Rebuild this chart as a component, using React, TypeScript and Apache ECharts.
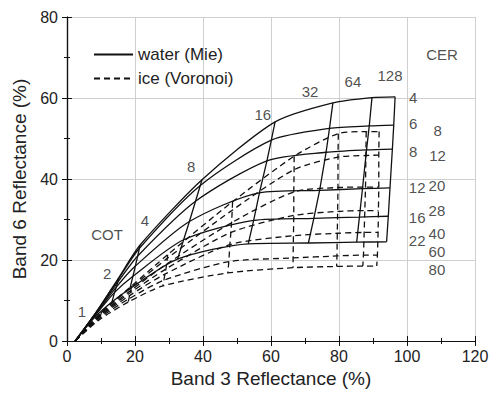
import React, { useEffect, useRef } from "react";
import * as echarts from "echarts";

// Optical thickness (COT) grid nodes and effective radii (CER)
const cotValues = [0, 1, 2, 4, 8, 16, 32, 64, 128];
const waterCER = [4, 6, 8, 12, 16, 22];
const iceCER = [8, 12, 20, 28, 40, 60, 80];

// Water (Mie) LUT: rows = CER, columns = COT
const waterBand3 = [
  [2.4, 8.8, 15.2, 21.5, 39.7, 61.2, 78.2, 89.7, 96.5],
  [2.4, 8.75, 15.1, 21.3, 39.2, 60.1, 77.2, 88.9, 96.1],
  [2.4, 8.7, 14.9, 20.8, 37.8, 58.8, 76.2, 88.1, 95.7],
  [2.4, 8.5, 14.5, 20.1, 36.0, 56.6, 74.3, 86.9, 95.0],
  [2.4, 8.3, 14.0, 19.4, 34.3, 54.9, 72.6, 86.0, 94.5],
  [2.4, 8.0, 13.2, 18.5, 32.5, 53.3, 71.0, 85.2, 94.0],
];
const waterBand6 = [
  [0, 7.4, 15.6, 23.7, 39.8, 54.1, 58.8, 60.1, 60.3],
  [0, 7.3, 15.3, 22.9, 38.4, 49.6, 52.5, 53.1, 53.3],
  [0, 7.1, 14.5, 21.0, 34.5, 44.5, 46.6, 47.2, 47.4],
  [0, 6.7, 13.3, 18.5, 29.5, 36.6, 37.2, 37.6, 37.8],
  [0, 6.3, 12.0, 16.0, 25.0, 29.8, 30.3, 30.6, 30.8],
  [0, 5.7, 9.6, 12.9, 20.2, 24.0, 24.2, 24.4, 24.5],
];

// Ice (Voronoi) LUT: rows = CER, columns = COT
const iceBand3 = [
  [2.4, 10.2, 19.0, 29.6, 48.7, 66.8, 79.8, 88.0, 91.8],
  [2.4, 10.1, 18.9, 29.5, 48.6, 66.8, 79.7, 87.9, 91.7],
  [2.4, 10.0, 18.8, 29.3, 48.4, 66.7, 79.7, 87.8, 91.7],
  [2.4, 9.9, 18.6, 29.1, 48.2, 66.7, 79.6, 87.6, 91.6],
  [2.4, 9.8, 18.4, 28.8, 47.9, 66.6, 79.5, 87.4, 91.5],
  [2.4, 9.7, 18.2, 28.5, 47.6, 66.5, 79.4, 87.2, 91.3],
  [2.4, 9.6, 18.0, 28.2, 47.3, 66.5, 79.3, 87.0, 91.1],
];
const iceBand6 = [
  [0, 7.2, 13.6, 21.3, 34.4, 45.6, 51.2, 51.7, 51.7],
  [0, 7.0, 13.2, 20.4, 32.3, 42.3, 45.4, 45.8, 45.9],
  [0, 6.7, 12.5, 19.0, 29.2, 36.8, 37.9, 38.0, 38.0],
  [0, 6.4, 11.9, 17.8, 26.8, 31.0, 32.0, 32.2, 32.2],
  [0, 6.1, 11.2, 16.5, 23.8, 26.0, 26.6, 26.8, 26.8],
  [0, 5.7, 10.4, 15.0, 19.6, 20.5, 21.0, 21.2, 21.2],
  [0, 5.3, 9.6, 13.6, 16.8, 18.1, 18.4, 18.5, 18.5],
];

// Annotation texts (anchored in data coordinates)
const cotLabelText = ["1", "2", "4", "8", "16", "32", "64", "128"];
const cotLabelX = [4.4, 11.8, 22.9, 36.5, 57.6, 71.5, 84.1, 95.0];
const cotLabelY = [7.3, 16.6, 29.8, 43.2, 55.9, 61.5, 64.1, 65.6];
const waterCerLabelX = [101.8, 101.8, 101.8, 103.0, 103.0, 103.0];
const waterCerLabelY = [60.2, 53.7, 46.8, 37.8, 30.5, 24.9];
const iceCerLabelX = [109.0, 109.0, 108.8, 108.8, 108.8, 108.8, 108.8];
const iceCerLabelY = [52.0, 45.9, 38.3, 32.2, 26.6, 22.2, 17.6];
const titleLabels = [
  { name: "COT", value: [11.8, 26.3] },
  { name: "CER", value: [110.3, 70.7] },
];

const FONT = "'Liberation Sans', Arial, sans-serif";
const INK = "#111";
const TEXT = "#222";

export default function App() {
  const ref = useRef<HTMLDivElement>(null);

  useEffect(() => {
    const chart = echarts.init(ref.current!, null, { renderer: "svg" });
    const series: any[] = [];
    const solid = { color: INK, width: 1.3, type: "solid" };
    const dashed = { color: INK, width: 1.3, type: [6, 4] };

    // Water: constant-CER curves
    waterCER.forEach((_, i) => {
      series.push({
        type: "line",
        name: "water (Mie)",
        data: cotValues.map((_, j) => [waterBand3[i][j], waterBand6[i][j]]),
        symbol: "none",
        smooth: 0.25,
        lineStyle: solid,
        itemStyle: { color: INK },
        silent: true,
        z: 3,
      });
    });
    // Water: constant-COT curves
    cotValues.forEach((_, j) => {
      if (j === 0) return;
      series.push({
        type: "line",
        name: "water (Mie)",
        data: waterCER.map((_, i) => [waterBand3[i][j], waterBand6[i][j]]),
        symbol: "none",
        lineStyle: solid,
        itemStyle: { color: INK },
        silent: true,
        z: 3,
      });
    });
    // Ice: constant-CER curves
    iceCER.forEach((_, i) => {
      series.push({
        type: "line",
        name: "ice (Voronoi)",
        data: cotValues.map((_, j) => [iceBand3[i][j], iceBand6[i][j]]),
        symbol: "none",
        smooth: 0.25,
        lineStyle: dashed,
        itemStyle: { color: INK },
        silent: true,
        z: 2,
      });
    });
    // Ice: constant-COT curves
    cotValues.forEach((_, j) => {
      if (j === 0) return;
      series.push({
        type: "line",
        name: "ice (Voronoi)",
        data: iceCER.map((_, i) => [iceBand3[i][j], iceBand6[i][j]]),
        symbol: "none",
        lineStyle: dashed,
        itemStyle: { color: INK },
        silent: true,
        z: 2,
      });
    });

    const labelData = [
      ...cotLabelText.map((t, k) => ({ name: t, value: [cotLabelX[k], cotLabelY[k]] })),
      ...waterCER.map((c, k) => ({ name: String(c), value: [waterCerLabelX[k], waterCerLabelY[k]] })),
      ...iceCER.map((c, k) => ({ name: String(c), value: [iceCerLabelX[k], iceCerLabelY[k]] })),
      ...titleLabels,
    ];
    series.push({
      type: "scatter",
      name: "labels",
      data: labelData,
      symbolSize: 1,
      itemStyle: { color: "rgba(0,0,0,0)" },
      label: {
        show: true,
        position: "inside",
        formatter: "{b}",
        color: TEXT,
        fontSize: 15,
        fontFamily: FONT,
      },
      silent: true,
      z: 5,
    });

    const axisCommon = {
      type: "value",
      axisLine: { show: true, lineStyle: { color: INK, width: 1.2 } },
      axisTick: { show: true, inside: true, length: 5, lineStyle: { color: INK } },
      minorTick: { show: true, splitNumber: 2, length: 3, lineStyle: { color: INK } },
    };

    chart.setOption({
      animation: false,
      backgroundColor: "#fff",
      grid: { left: 67, right: 18, top: 17, bottom: 44 },
      legend: {
        data: ["water (Mie)", "ice (Voronoi)"],
        orient: "vertical",
        left: 88,
        top: 41,
        itemWidth: 39,
        itemHeight: 14,
        itemGap: 7,
        selectedMode: false,
        itemStyle: { opacity: 0 },
        textStyle: { fontSize: 17, color: TEXT, fontFamily: FONT },
      },
      xAxis: [
        {
          ...axisCommon,
          position: "bottom",
          min: 0,
          max: 120,
          interval: 20,
          name: "Band 3 Reflectance (%)",
          nameLocation: "middle",
          nameGap: 28,
          nameTextStyle: { fontSize: 19, color: TEXT, fontFamily: FONT },
          axisLabel: { fontSize: 16, color: TEXT, fontFamily: FONT, margin: 7 },
          splitLine: { show: true, lineStyle: { color: "#cfcfcf", width: 1 } },
        },
        {
          ...axisCommon,
          position: "top",
          min: 0,
          max: 120,
          interval: 20,
          axisLabel: { show: false },
          splitLine: { show: false },
        },
      ],
      yAxis: [
        {
          ...axisCommon,
          position: "left",
          min: 0,
          max: 80,
          interval: 20,
          name: "Band 6 Reflectance (%)",
          nameLocation: "middle",
          nameGap: 34,
          nameTextStyle: { fontSize: 19, color: TEXT, fontFamily: FONT },
          axisLabel: { fontSize: 16, color: TEXT, fontFamily: FONT, margin: 9 },
          splitLine: { show: true, lineStyle: { color: "#cfcfcf", width: 1 } },
        },
        {
          ...axisCommon,
          position: "right",
          min: 0,
          max: 80,
          interval: 20,
          axisLabel: { show: false },
          splitLine: { show: false },
        },
      ],
      series,
    });
    return () => chart.dispose();
  }, []);

  return (
    <div
      ref={ref}
      style={{ position: "fixed", left: 0, top: 0, width: 493, height: 393, background: "#fff" }}
    />
  );
}
